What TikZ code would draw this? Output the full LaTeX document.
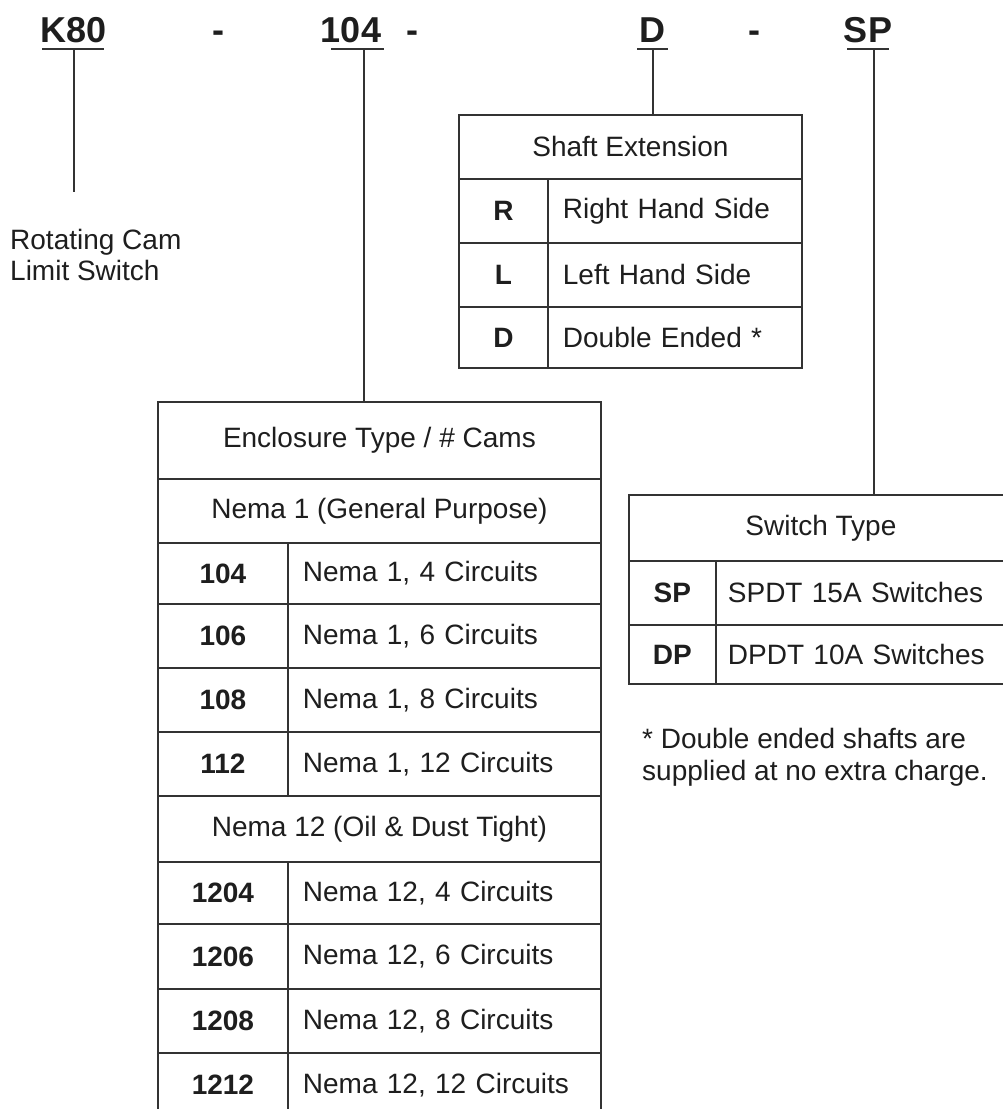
\documentclass[tikz,border=0pt]{standalone}
\usepackage{fontspec}
\setmainfont{Liberation Sans}
\definecolor{linec}{HTML}{333333}
\definecolor{txtc}{HTML}{1E1E1E}
\begin{document}
\begin{tikzpicture}[x=1pt,y=-1pt,
  ln/.style={draw=linec, line width=1.8pt},
  cell/.style={ln, anchor=north west, inner sep=0pt, text=txtc, font=\fontsize{28}{31}\selectfont},
  keycell/.style={cell, font=\fontsize{28}{31}\selectfont\bfseries},
  desc/.style={cell, align=left},
  hdr/.style={text=txtc, font=\fontsize{36}{40}\selectfont\bfseries, anchor=base, inner sep=0pt},
  plain/.style={text=txtc, font=\fontsize{28}{31}\selectfont, anchor=base west, inner sep=0pt},
]
\useasboundingbox (0,0) rectangle (1003,1109);
\clip (0,0) rectangle (1003,1109);
\fill[white] (0,0) rectangle (1003,1109);

% ---- header code ----
\node[hdr] (k80) at (74,42) {K80};
\node[hdr] (d1) at (218,42) {-};
\node[hdr] (n104) at (351,42) {104};
\node[hdr] (d2) at (412,42) {-};
\node[hdr] (nD) at (652,42) {D};
\node[hdr] (d3) at (754,42) {-};
\node[hdr] (nSP) at (868,42) {SP};

% underlines
\coordinate (kL) at (42,49);  \coordinate (kR) at (104,49);
\coordinate (aL) at (331,49); \coordinate (aR) at (384,49);
\coordinate (bL) at (637,49); \coordinate (bR) at (668,49);
\coordinate (cL) at (847,49); \coordinate (cR) at (889,49);
\draw[ln] (kL) -- (kR);
\draw[ln] (aL) -- (aR);
\draw[ln] (bL) -- (bR);
\draw[ln] (cL) -- (cR);

% connector anchors
\coordinate (uK) at (74,49);
\coordinate (kEnd) at (74,192);
\coordinate (u104) at (364,49);
\coordinate (uD) at (653,49);
\coordinate (uSP) at (874,49);

% ---- left label ----
\node[plain] (rot1) at (10,249) {Rotating Cam};
\node[plain] (rot2) at (10,280) {Limit Switch};

% ---- Shaft Extension table ----
\node[cell, minimum width=343pt, minimum height=64pt] (shH) at (458,114) {Shaft Extension};
\node[keycell, minimum width=89pt, minimum height=64pt] (shR) at (458,178) {R};
\node[desc, minimum width=254pt, minimum height=64pt, text width=224pt] (shRd) at (547,178) {Right Hand Side};
\node[keycell, minimum width=89pt, minimum height=64pt] (shL) at (458,242) {L};
\node[desc, minimum width=254pt, minimum height=64pt, text width=224pt] (shLd) at (547,242) {Left Hand Side};
\node[keycell, minimum width=89pt, minimum height=61pt] (shD) at (458,306) {D};
\node[desc, minimum width=254pt, minimum height=61pt, text width=224pt] (shDd) at (547,306) {Double Ended *};

% ---- Enclosure table ----
\node[cell, minimum width=443pt, minimum height=77pt] (enH) at (157,401) {Enclosure Type / \# Cams};
\node[cell, minimum width=443pt, minimum height=64pt] (enN1) at (157,478) {Nema 1 (General Purpose)};
\node[keycell, minimum width=130pt, minimum height=61pt] (e104) at (157,542) {104};
\node[desc, minimum width=313pt, minimum height=61pt, text width=283pt] (e104d) at (287,542) {Nema 1, 4 Circuits};
\node[keycell, minimum width=130pt, minimum height=64pt] (e106) at (157,603) {106};
\node[desc, minimum width=313pt, minimum height=64pt, text width=283pt] (e106d) at (287,603) {Nema 1, 6 Circuits};
\node[keycell, minimum width=130pt, minimum height=64pt] (e108) at (157,667) {108};
\node[desc, minimum width=313pt, minimum height=64pt, text width=283pt] (e108d) at (287,667) {Nema 1, 8 Circuits};
\node[keycell, minimum width=130pt, minimum height=64pt] (e112) at (157,731) {112};
\node[desc, minimum width=313pt, minimum height=64pt, text width=283pt] (e112d) at (287,731) {Nema 1, 12 Circuits};
\node[cell, minimum width=443pt, minimum height=66pt] (enN12) at (157,795) {Nema 12 (Oil \& Dust Tight)};
\node[keycell, minimum width=130pt, minimum height=62pt] (e1204) at (157,861) {1204};
\node[desc, minimum width=313pt, minimum height=62pt, text width=283pt] (e1204d) at (287,861) {Nema 12, 4 Circuits};
\node[keycell, minimum width=130pt, minimum height=65pt] (e1206) at (157,923) {1206};
\node[desc, minimum width=313pt, minimum height=65pt, text width=283pt] (e1206d) at (287,923) {Nema 12, 6 Circuits};
\node[keycell, minimum width=130pt, minimum height=64pt] (e1208) at (157,988) {1208};
\node[desc, minimum width=313pt, minimum height=64pt, text width=283pt] (e1208d) at (287,988) {Nema 12, 8 Circuits};
\node[keycell, minimum width=130pt, minimum height=64pt] (e1212) at (157,1052) {1212};
\node[desc, minimum width=313pt, minimum height=64pt, text width=283pt] (e1212d) at (287,1052) {Nema 12, 12 Circuits};

% ---- Switch Type table ----
\node[cell, minimum width=384pt, minimum height=66pt] (swH) at (628,494) {Switch Type};
\node[keycell, minimum width=87pt, minimum height=64pt] (swSP) at (628,560) {SP};
\node[desc, minimum width=297pt, minimum height=64pt, text width=273pt] (swSPd) at (715,560) {SPDT 15A Switches};
\node[keycell, minimum width=87pt, minimum height=59pt] (swDP) at (628,624) {DP};
\node[desc, minimum width=297pt, minimum height=59pt, text width=273pt] (swDPd) at (715,624) {DPDT 10A Switches};

% ---- footnote ----
\node[plain] (fn1) at (642,748) {* Double ended shafts are};
\node[plain] (fn2) at (642,780) {supplied at no extra charge.};

% ---- connectors ----
\draw[ln] (uK) -- (kEnd);
\draw[ln] (u104) -- (u104 |- enH.north);
\draw[ln] (uD) -- (uD |- shH.north);
\draw[ln] (uSP) -- (uSP |- swH.north);
\end{tikzpicture}
\end{document}
